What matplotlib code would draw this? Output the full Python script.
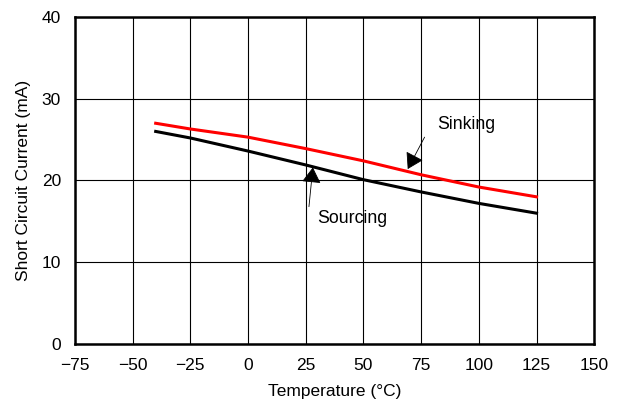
import numpy as np
import matplotlib.pyplot as plt

plt.rcParams['font.family'] = ['Liberation Sans', 'DejaVu Sans']

temps = [-40, -25, 0, 25, 50, 75, 100, 125]
sinking = [27.0, 26.3, 25.3, 23.9, 22.4, 20.7, 19.2, 18.0]
sourcing = [26.0, 25.2, 23.6, 21.9, 20.1, 18.6, 17.2, 16.0]

xticks = [-75, -50, -25, 0, 25, 50, 75, 100, 125, 150]
yticks = [0, 10, 20, 30, 40]

fig = plt.figure(figsize=(6.19, 4.04), dpi=100)
ax = fig.add_axes([0.121, 0.1485, 0.839, 0.8095])

ax.plot(temps, sinking, color='#ff0000', lw=2.2)
ax.plot(temps, sourcing, color='black', lw=2.2)

ax.set_xlim(-75, 150)
ax.set_ylim(0, 40)
ax.set_xticks(xticks)
ax.set_yticks(yticks)
ax.grid(True, color='black', lw=0.8)
ax.tick_params(length=0, labelsize=12.5, pad=10)
for s in ax.spines.values():
    s.set_linewidth(1.8)

ax.set_xlabel('Temperature (°C)', fontsize=12.5, labelpad=8)
ax.set_ylabel('Short Circuit Current (mA)', fontsize=12.5, labelpad=8)

# filled heads, thin shafts
arrow = dict(arrowstyle='-|>,head_length=0.65,head_width=0.4', color='black',
             lw=0.6, mutation_scale=15, shrinkA=0, shrinkB=0)
ax.text(94.5, 26.9, 'Sinking', fontsize=12.8, ha='center', va='center')
ax.annotate('', xy=(69.2, 21.4), xytext=(76.5, 25.3), arrowprops=arrow)
ax.text(45.2, 15.4, 'Sourcing', fontsize=12.8, ha='center', va='center')
ax.annotate('', xy=(28.1, 21.6), xytext=(26.4, 16.8), arrowprops=arrow)

fig.savefig('out.png', dpi=100)
